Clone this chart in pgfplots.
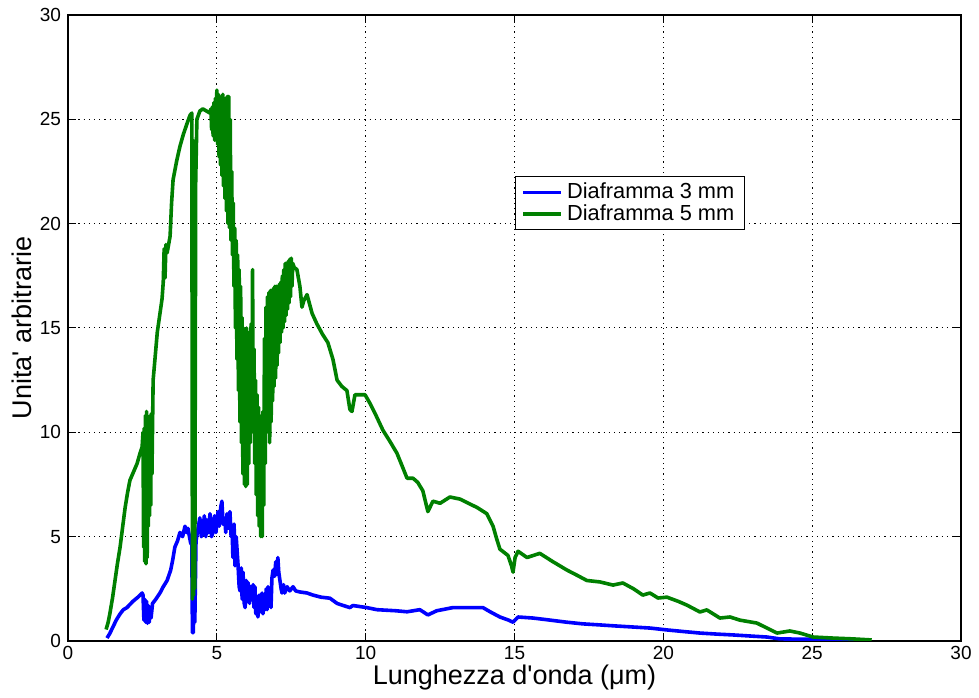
\documentclass[border=0pt]{standalone}
\usepackage{fontspec}
\setmainfont{Liberation Sans}[Ligatures=TeXOff]
\usepackage{pgfplots}
\pgfplotsset{compat=1.18}
\definecolor{mblue}{rgb}{0,0,1}
\definecolor{mgreen}{rgb}{0,0.5,0}
\begin{document}
\begin{tikzpicture}
\begin{axis}[
  scale only axis,
  width=446.5pt, height=313pt,
  xmin=0, xmax=30, ymin=0, ymax=30,
  xtick={0,5,...,30}, ytick={0,5,...,30},
  grid=major,
  grid style={black, line width=0.5pt, dash pattern=on 0.6pt off 2pt},
  tick align=inside, major tick length=4pt,
  tick style={black, line width=0.5pt},
  axis line style={black, line width=0.6pt},
  ticklabel style={font=\fontsize{9.5}{11}\selectfont},
  xticklabel style={yshift=1pt},
  /pgf/number format/assume math mode=true,
  xlabel={Lunghezza d'onda (μm)},
  ylabel={Unita' arbitrarie},
  label style={font=\fontsize{13.5}{15}\selectfont},
  xlabel style={at={(axis description cs:0.5,-0.058)}, anchor=center},
  ylabel style={at={(axis description cs:-0.0515,0.5)}, anchor=center},
  legend style={at={(axis description cs:0.5006,0.7420)}, anchor=north west,
    draw=black, line width=0.5pt, font=\fontsize{10.9}{11}\selectfont,
    inner xsep=3pt, inner ysep=1pt, row sep=-2.5pt},
  legend cell align=left,
  legend image code/.code={\draw[#1, line width=1.8pt] (0cm,0cm) -- (19pt,0cm);},
]
% diaframma 3 mm
\addplot[mblue, line width=1.8pt, line join=round] table {
1.31 0.14
1.40 0.35
1.51 0.67
1.62 1.0
1.75 1.3
1.86 1.5
1.98 1.6
2.18 1.9
2.35 2.1
2.49 2.3
2.52 2.2
2.55 1.0
2.58 2.0
2.61 0.9
2.64 1.9
2.67 0.85
2.70 1.7
2.73 0.9
2.76 1.6
2.79 1.1
2.84 1.8
2.95 2.0
3.09 2.3
3.20 2.6
3.33 2.9
3.45 3.4
3.52 3.9
3.59 4.5
3.68 4.8
3.76 5.2
3.85 5.0
3.93 5.5
3.98 5.2
4.03 5.4
4.08 5.0
4.12 4.7
4.16 4.6
4.18 0.4
4.21 0.4
4.24 3.0
4.26 0.9
4.30 4.8
4.36 5.3
4.43 5.9
4.48 5.0
4.53 5.2
4.58 6.0
4.63 5.0
4.67 5.8
4.72 5.2
4.77 6.1
4.82 5.0
4.87 5.2
4.92 6.0
4.97 5.2
5.04 6.2
5.08 5.5
5.13 6.4
5.17 6.7
5.21 5.6
5.27 5.8
5.30 5.2
5.34 6.1
5.38 5.4
5.44 6.2
5.48 5.0
5.51 5.5
5.54 4.0
5.58 5.6
5.61 3.6
5.65 5.0
5.71 3.7
5.75 2.6
5.78 2.4
5.82 3.5
5.85 2.0
5.88 3.3
5.92 1.8
5.95 1.6
5.99 2.9
6.02 1.9
6.05 2.8
6.10 1.8
6.14 2.6
6.18 2.0
6.22 2.7
6.25 1.6
6.28 2.6
6.31 1.3
6.35 2.0
6.38 1.15
6.42 2.2
6.46 1.4
6.52 2.3
6.55 1.3
6.59 2.2
6.62 1.5
6.66 2.5
6.69 1.5
6.72 2.6
6.76 1.7
6.79 2.4
6.82 1.6
6.85 3.0
6.89 3.4
6.94 3.1
6.98 3.8
7.02 3.2
7.05 4.0
7.08 3.3
7.12 2.9
7.16 2.5
7.19 2.3
7.24 2.7
7.28 2.3
7.36 2.6
7.45 2.4
7.56 2.6
7.65 2.4
7.79 2.35
8.03 2.3
8.23 2.2
8.50 2.1
8.80 2.05
9.04 1.8
9.25 1.7
9.47 1.6
9.57 1.7
10.04 1.6
10.38 1.5
11.00 1.45
11.39 1.4
11.82 1.5
12.09 1.25
12.39 1.45
12.93 1.6
13.50 1.6
13.94 1.6
14.18 1.4
14.51 1.15
14.80 1.0
14.95 0.9
15.12 1.15
15.62 1.1
16.20 1.0
16.76 0.9
17.30 0.82
17.87 0.77
18.40 0.72
18.98 0.67
19.55 0.62
20.12 0.53
20.70 0.45
21.23 0.38
21.80 0.33
22.34 0.29
22.90 0.24
23.48 0.19
23.92 0.10
25.00 0.08
25.90 0.05
26.50 0.03
};
\addlegendentry{Diaframma 3 mm}
% diaframma 5 mm
\addplot[mgreen, line width=1.8pt, line join=round] table {
1.28 0.55
1.35 0.9
1.41 1.34
1.50 2.1
1.58 2.9
1.66 3.7
1.75 4.5
1.83 5.4
1.92 6.4
2.00 7.1
2.08 7.7
2.20 8.1
2.32 8.5
2.42 9.0
2.49 9.3
2.52 10.0
2.54 4.5
2.56 10.2
2.58 3.8
2.60 10.8
2.62 3.7
2.64 11.0
2.66 4.0
2.68 10.5
2.70 5.5
2.72 10.6
2.74 6.0
2.76 10.8
2.78 6.5
2.80 10.9
2.82 8.0
2.86 12.5
3.00 14.8
3.09 15.7
3.16 16.4
3.20 17.2
3.23 18.8
3.26 17.4
3.29 19.0
3.33 18.6
3.43 19.4
3.48 21.0
3.53 22.1
3.65 23.0
3.76 23.7
3.88 24.3
4.00 24.8
4.10 25.2
4.16 25.3
4.18 2.0
4.20 24.0
4.22 2.2
4.24 20.0
4.26 2.5
4.29 22.0
4.33 25.0
4.43 25.4
4.53 25.5
4.65 25.4
4.77 25.3
4.800 25.5
4.825 24.5
4.850 25.6
4.875 24.2
4.900 25.8
4.925 24.0
4.950 26.0
4.975 24.0
5.000 26.4
5.025 23.8
5.050 26.2
5.075 23.2
5.100 26.0
5.125 22.8
5.150 26.1
5.175 22.3
5.200 26.2
5.225 21.8
5.250 26.0
5.275 21.2
5.300 26.0
5.325 20.6
5.350 26.1
5.375 20.0
5.400 26.1
5.425 19.8
5.450 25.0
5.475 19.2
5.500 22.5
5.525 18.5
5.550 21.0
5.575 17.0
5.600 19.8
5.625 15.0
5.650 19.2
5.675 13.5
5.700 18.5
5.725 12.0
5.750 17.8
5.775 10.5
5.800 17.0
5.825 9.5
5.850 15.5
5.875 8.0
5.900 15.0
5.925 7.5
5.950 14.5
5.975 7.4
6.000 15.0
6.025 7.5
6.050 14.5
6.075 8.5
6.100 14.8
6.125 9.5
6.150 15.2
6.175 10.0
6.200 17.8
6.225 10.5
6.250 14.0
6.275 8.5
6.300 12.5
6.325 7.0
6.350 11.8
6.375 6.0
6.400 11.2
6.425 5.5
6.450 10.8
6.475 5.0
6.500 10.5
6.525 5.0
6.550 11.0
6.575 6.5
6.600 14.5
6.625 8.5
6.650 16.0
6.675 10.0
6.700 16.5
6.725 10.6
6.750 16.7
6.775 9.5
6.800 16.8
6.825 10.5
6.850 16.8
6.875 11.5
6.900 16.9
6.925 12.2
6.950 17.0
6.975 12.6
7.000 17.0
7.025 13.2
7.050 17.0
7.075 13.8
7.100 17.1
7.125 14.3
7.150 17.2
7.175 14.8
7.200 17.5
7.225 15.0
7.250 17.8
7.275 15.3
7.300 18.1
7.325 15.6
7.350 18.1
7.375 15.9
7.400 18.2
7.425 16.2
7.450 18.3
7.475 16.5
7.500 18.35
7.525 17.0
7.550 18.1
7.600 17.9
7.69 17.8
7.79 17.0
7.86 16.0
7.92 16.3
8.03 16.6
8.20 15.7
8.36 15.2
8.55 14.7
8.73 14.3
8.90 13.5
9.04 12.5
9.20 12.2
9.37 12.0
9.47 11.1
9.54 11.0
9.64 11.8
9.80 11.8
9.98 11.8
10.14 11.4
10.35 10.8
10.58 10.1
10.80 9.6
11.05 9.0
11.25 8.3
11.39 7.8
11.59 7.8
11.75 7.6
11.92 7.2
12.09 6.2
12.26 6.7
12.50 6.6
12.83 6.9
13.17 6.8
13.45 6.6
13.74 6.4
14.07 6.1
14.28 5.5
14.40 4.9
14.51 4.4
14.78 4.1
14.90 3.6
14.95 3.3
15.02 4.0
15.12 4.3
15.42 4.0
15.85 4.2
16.29 3.8
16.76 3.4
17.10 3.15
17.43 2.9
17.87 2.83
18.31 2.68
18.64 2.78
19.00 2.5
19.31 2.2
19.55 2.3
19.82 2.06
20.12 2.1
20.50 1.9
20.79 1.72
21.23 1.39
21.46 1.49
21.90 1.1
22.24 1.15
22.57 1.0
23.14 0.86
23.48 0.62
23.82 0.38
24.25 0.48
24.59 0.38
25.03 0.19
25.70 0.14
26.37 0.10
27.00 0.05
};
\addlegendentry{Diaframma 5 mm}
\end{axis}
\path ([shift={(-34pt,-28.5pt)}]current axis.south west) rectangle ([shift={(9pt,7.5pt)}]current axis.north east);
\end{tikzpicture}
\end{document}
